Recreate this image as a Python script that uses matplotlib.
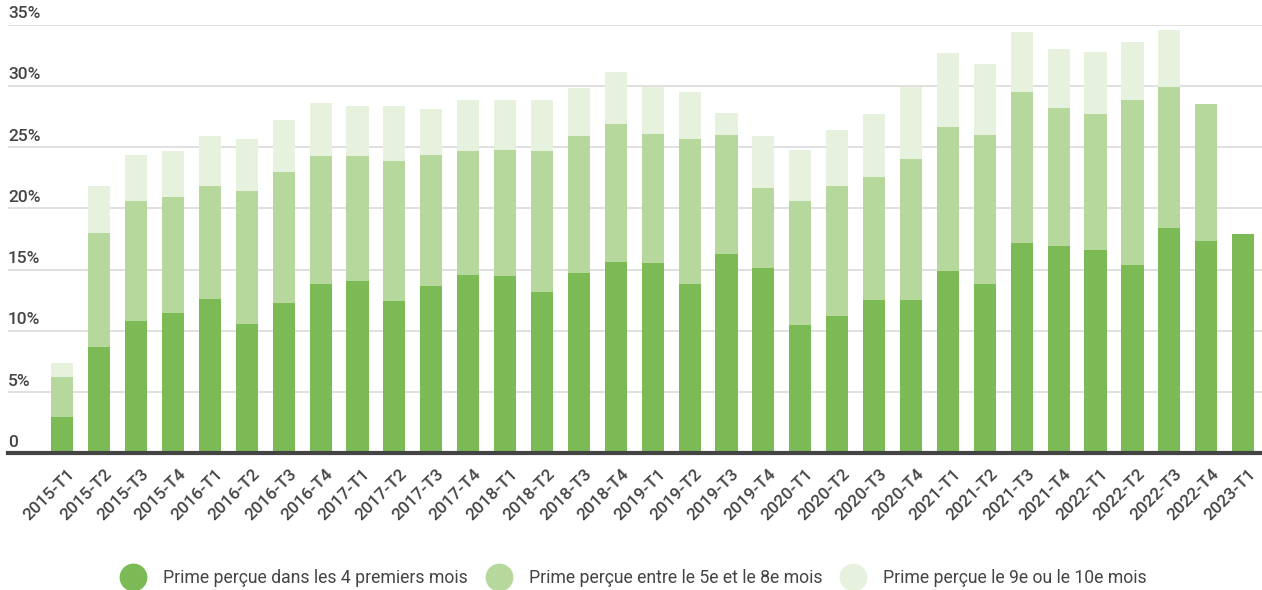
import matplotlib
matplotlib.use("Agg")
import matplotlib.pyplot as plt
from matplotlib.lines import Line2D
import numpy as np

plt.rcParams['font.family'] = ['Roboto', 'DejaVu Sans']

quarters = ["2015-T1", "2015-T2", "2015-T3", "2015-T4",
            "2016-T1", "2016-T2", "2016-T3", "2016-T4",
            "2017-T1", "2017-T2", "2017-T3", "2017-T4",
            "2018-T1", "2018-T2", "2018-T3", "2018-T4",
            "2019-T1", "2019-T2", "2019-T3", "2019-T4",
            "2020-T1", "2020-T2", "2020-T3", "2020-T4",
            "2021-T1", "2021-T2", "2021-T3", "2021-T4",
            "2022-T1", "2022-T2", "2022-T3", "2022-T4",
            "2023-T1"]

prime_4_mois = [2.94, 8.7, 10.8, 11.45, 12.6, 10.55, 12.25, 13.8,
                14.1, 12.4, 13.7, 14.6, 14.5, 13.15, 14.75, 15.6,
                15.5, 13.8, 16.3, 15.1, 10.5, 11.2, 12.5, 12.5,
                14.85, 13.8, 17.2, 16.95, 16.6, 15.4, 18.4, 17.35,
                17.9]
prime_5_8_mois = [3.26, 9.3, 9.8, 9.45, 9.2, 10.85, 10.75, 10.5,
                  10.2, 11.5, 10.7, 10.1, 10.3, 11.55, 11.15, 11.3,
                  10.6, 11.9, 9.7, 6.6, 10.1, 10.6, 10.1, 11.5,
                  11.8, 12.2, 12.3, 11.25, 11.1, 13.45, 11.5, 11.15,
                  0.0]
prime_9_10_mois = [1.15, 3.8, 3.8, 3.8, 4.1, 4.3, 4.2, 4.3,
                   4.05, 4.45, 3.7, 4.15, 4.05, 4.15, 3.9, 4.2,
                   3.8, 3.8, 1.8, 4.2, 4.2, 4.6, 5.1, 5.9,
                   6.05, 5.75, 4.9, 4.85, 5.1, 4.75, 4.7, 0.0,
                   0.0]

series_labels = ["Prime perçue dans les 4 premiers mois",
                 "Prime perçue entre le 5e et le 8e mois",
                 "Prime perçue le 9e ou le 10e mois"]
y_ticks = [0, 5, 10, 15, 20, 25, 30, 35]
y_tick_labels = ["0", "5%", "10%", "15%", "20%", "25%", "30%", "35%"]

colors = ["#7cba55", "#b6d89c", "#e6f1de"]

W, H = 1262, 590
fig = plt.figure(figsize=(W / 100, H / 100), dpi=100)
ax = fig.add_axes([8 / W, 1 - 453.3 / H, 1 - 8 / W, (453.3 - 24.7) / H])

x = np.arange(len(quarters))
a = np.array(prime_4_mois)
b = np.array(prime_5_8_mois)
c = np.array(prime_9_10_mois)
width = 0.6
ax.bar(x, a, width, color=colors[0], zorder=3)
ax.bar(x, b, width, bottom=a, color=colors[1], zorder=3)
ax.bar(x, c, width, bottom=a + b, color=colors[2], zorder=3)

ax.set_xlim(-1.47, 32.51)
ax.set_ylim(0, 35)

for s in ["top", "right", "left"]:
    ax.spines[s].set_visible(False)
ax.spines["bottom"].set_color("#444444")
ax.spines["bottom"].set_linewidth(3)
ax.spines["bottom"].set_zorder(5)

ax.set_yticks(y_ticks)
ax.yaxis.grid(True, color="#dddddd", linewidth=1.3, zorder=0)
ax.tick_params(axis="y", length=0, labelleft=False)
for v, lab in zip(y_ticks, y_tick_labels):
    ax.annotate(lab, xy=(0, v), xycoords=("axes fraction", "data"),
                xytext=(0, 2.5), textcoords="offset points",
                ha="left", va="bottom", fontsize=12.5, color="#444444",
                fontweight="medium")

ax.set_xticks(x)
ax.set_xticklabels(quarters, rotation=45, ha="right", va="top",
                   rotation_mode="anchor", fontsize=12.5, color="#444444",
                   fontweight="medium")
ax.tick_params(axis="x", length=0, pad=9)
for t in ax.get_xticklabels():
    t.set_transform(t.get_transform() + matplotlib.transforms.ScaledTranslation(5 / 100, 0, fig.dpi_scale_trans))

handles = [Line2D([], [], linestyle="none", marker="o", markersize=19,
                  markerfacecolor=col, markeredgecolor=col) for col in colors]
fig.legend(handles, series_labels, loc="center", bbox_to_anchor=(0.5, 1 - 578 / H),
           ncol=3, frameon=False, fontsize=12.7, handletextpad=0.7,
           columnspacing=0.75, labelcolor="#444444")

fig.savefig("out.png", dpi=100)
